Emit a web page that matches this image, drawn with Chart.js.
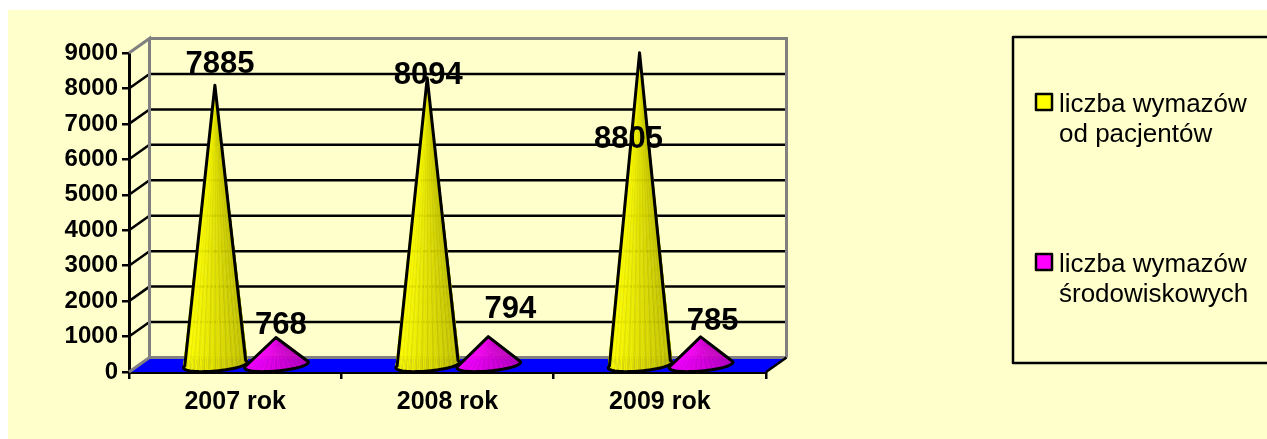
<!DOCTYPE html>
<html>
<head>
<meta charset="utf-8">
<script src="https://cdn.jsdelivr.net/npm/chart.js@4"></script>
<style>
html, body { margin: 0; padding: 0; background: #fff; }
#wrap { width: 1267px; height: 439px; }
</style>
</head>
<body>
<div id="wrap"><canvas id="grafico" width="1267" height="439"></canvas></div>
<script>
const categorias = ['2007 rok', '2008 rok', '2009 rok'];
const pacjenci = [7885, 8094, 8805];
const srodowiskowe = [768, 794, 785];
const legenda1 = ['liczba wymazów', 'od pacjentów'];
const legenda2 = ['liczba wymazów', 'środowiskowych'];

// where the labels were hand-moved in the original, relative to the cone tip
const labelShift = [
    [[5, -12], [1, 6], [-11, 95]],
    [[5, -4], [22, -19], [12, -7]]
];

const tlo = '#ffffcc';
const depthX = 20.5, depthY = -14.5;

function kolor(rgb, t) {
    return 'rgb(' + rgb.map(c => Math.round(c * t)).join(',') + ')';
}

function stozek(ctx, bar, rgb) {
    const tipX = bar.x + depthX / 2, tipY = bar.y + depthY / 2;
    const cx = tipX + 0.5, cy = bar.base + depthY / 2 + 1.5;
    const rx = bar.width / 2 + 1.5, ry = 6, rot = -0.09;
    const punkt = (a) => {
        const x = rx * Math.cos(a), y = ry * Math.sin(a);
        return [cx + x * Math.cos(rot) - y * Math.sin(rot), cy + x * Math.sin(rot) + y * Math.cos(rot)];
    };
    // the arc runs a bit past the widest points, where the sides touch the rim
    const start = -0.3, span = Math.PI + 0.6;
    // the fan of thin facets gives the striped look
    const n = 60;
    for (let i = 0; i < n; i++) {
        const a0 = start + span * i / n, a1 = start + span * (i + 1) / n;
        const p0 = punkt(a0), p1 = punkt(a1);
        const u = (Math.cos((a0 + a1) / 2) + 1) / 2; // 1 on the right
        let t = 1 - 0.24 * u;
        if (i % 3 == 0) t -= 0.07;
        ctx.fillStyle = kolor(rgb, t);
        ctx.strokeStyle = ctx.fillStyle;
        ctx.lineWidth = 0.5;
        ctx.beginPath();
        ctx.moveTo(tipX, tipY);
        ctx.lineTo(p0[0], p0[1]);
        ctx.lineTo(p1[0], p1[1]);
        ctx.closePath();
        ctx.fill();
        ctx.stroke();
    }
    ctx.beginPath();
    ctx.moveTo(tipX, tipY);
    for (let i = 0; i <= 40; i++) {
        const p = punkt(start + span * i / 40);
        ctx.lineTo(p[0], p[1]);
    }
    ctx.closePath();
    ctx.strokeStyle = '#000';
    ctx.lineWidth = 3;
    ctx.lineJoin = 'round';
    ctx.stroke();
}

const ramka3d = {
    id: 'ramka3d',
    beforeDraw(chart) {
        const ctx = chart.ctx;
        ctx.save();
        ctx.fillStyle = tlo;
        ctx.fillRect(8, 10, chart.width - 8, chart.height - 10);
        ctx.restore();
    },
    beforeDatasetsDraw(chart) {
        const ctx = chart.ctx, a = chart.chartArea, y = chart.scales.y;
        const lewo = a.left + depthX, prawo = a.right + depthX;
        ctx.save();
        ctx.fillStyle = '#0000ff';
        ctx.beginPath();
        ctx.moveTo(a.left, a.bottom);
        ctx.lineTo(a.right, a.bottom);
        ctx.lineTo(prawo, a.bottom + depthY);
        ctx.lineTo(lewo, a.bottom + depthY);
        ctx.closePath();
        ctx.fill();

        // grid lines run along the side wall and the back wall
        ctx.lineWidth = 2.5;
        y.ticks.forEach(t => {
            if (t.value == 0 || t.value == y.max) return;
            const py = y.getPixelForValue(t.value);
            ctx.strokeStyle = '#000';
            ctx.beginPath();
            ctx.moveTo(a.left, py);
            ctx.lineTo(lewo, py + depthY);
            ctx.lineTo(prawo, py + depthY);
            ctx.stroke();
        });

        ctx.strokeStyle = '#808080';
        ctx.lineWidth = 3;
        ctx.beginPath();
        ctx.moveTo(a.left, a.bottom);
        ctx.lineTo(lewo, a.bottom + depthY);
        ctx.lineTo(lewo, a.top + depthY);
        ctx.lineTo(a.left, a.top);
        ctx.moveTo(lewo, a.bottom + depthY);
        ctx.lineTo(prawo, a.bottom + depthY);
        ctx.moveTo(lewo, a.top + depthY);
        ctx.lineTo(prawo, a.top + depthY);
        ctx.lineTo(prawo, a.bottom + depthY);
        ctx.stroke();

        ctx.strokeStyle = '#000';
        ctx.lineWidth = 2.5;
        ctx.beginPath();
        ctx.moveTo(a.right, a.bottom);
        ctx.lineTo(prawo, a.bottom + depthY);
        ctx.stroke();
        ctx.restore();
    },
    afterDatasetsDraw(chart) {
        const ctx = chart.ctx;
        const kolory = [[255, 255, 0], [255, 0, 255]];
        ctx.save();
        chart.data.labels.forEach((_, i) => {
            chart.data.datasets.forEach((ds, d) => {
                stozek(ctx, chart.getDatasetMeta(d).data[i], kolory[d]);
            });
        });
        ctx.fillStyle = '#000';
        ctx.font = 'bold 31px "Liberation Sans", Arial, sans-serif';
        ctx.textAlign = 'center';
        ctx.textBaseline = 'alphabetic';
        chart.data.datasets.forEach((ds, d) => {
            chart.getDatasetMeta(d).data.forEach((bar, i) => {
                const s = labelShift[d][i];
                ctx.fillText(String(ds.data[i]), bar.x + depthX / 2 + s[0], bar.y + depthY / 2 + s[1]);
            });
        });

        // legend box, cut off by the right edge like in the original
        ctx.strokeStyle = '#000';
        ctx.lineWidth = 2.5;
        ctx.strokeRect(1013, 37, 300, 326);
        const wpisy = [[legenda1, 94, '#ffff00'], [legenda2, 254, '#ff00ff']];
        ctx.textAlign = 'left';
        ctx.font = '26px "Liberation Sans", Arial, sans-serif';
        wpisy.forEach(w => {
            ctx.fillStyle = w[2];
            ctx.fillRect(1036, w[1], 16, 16);
            ctx.strokeRect(1036, w[1], 16, 16);
            ctx.fillStyle = '#000';
            ctx.fillText(w[0][0], 1059, w[1] + 18);
            ctx.fillText(w[0][1], 1059, w[1] + 48);
        });
        ctx.restore();
    }
};

new Chart(document.getElementById('grafico'), {
    type: 'bar',
    plugins: [ramka3d],
    data: {
        labels: categorias,
        datasets: [
            { label: legenda1.join(' '), data: pacjenci, backgroundColor: 'rgba(0,0,0,0)', categoryPercentage: 0.575, barPercentage: 1 },
            { label: legenda2.join(' '), data: srodowiskowe, backgroundColor: 'rgba(0,0,0,0)', categoryPercentage: 0.575, barPercentage: 1 }
        ]
    },
    options: {
        responsive: false,
        animation: false,
        layout: { padding: { left: 0, top: 53, right: 501, bottom: 0 } },
        plugins: { legend: { display: false }, tooltip: { enabled: false } },
        scales: {
            x: {
                afterFit: (s) => { s.height = 67; },
                border: { color: '#000', width: 3 },
                grid: { drawOnChartArea: false, color: '#000', lineWidth: 2.5, tickLength: 7 },
                ticks: { color: '#000', padding: 8, font: { family: '"Liberation Sans", Arial, sans-serif', size: 25, weight: 'bold' } }
            },
            y: {
                min: 0,
                max: 9000,
                afterFit: (s) => { s.width = 129; },
                border: { color: '#000', width: 3 },
                grid: { drawOnChartArea: false, color: '#000', lineWidth: 2.5, tickLength: 7 },
                ticks: { stepSize: 1000, color: '#000', padding: 4, callback: (v) => String(v), font: { family: '"Liberation Sans", Arial, sans-serif', size: 24, weight: 'bold' } }
            }
        }
    }
});
</script>
</body>
</html>
